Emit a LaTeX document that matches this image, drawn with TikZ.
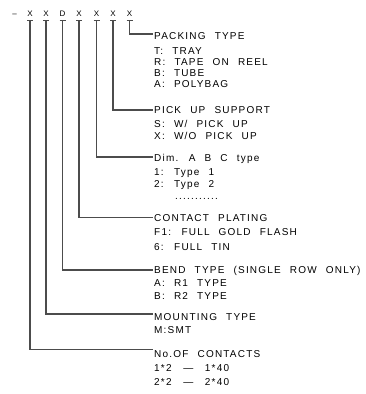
\documentclass[tikz,border=0pt]{standalone}
\usepackage{fontspec}
\setmainfont{Liberation Sans}[LetterSpace=12, WordSpace=2.3]
\newfontfamily\hdrfont{Liberation Sans}[LetterSpace=0]
\begin{document}
\begin{tikzpicture}[x=1pt,y=-1pt,
  conn/.style={draw=black!70, line width=1.1pt},
  tick/.style={draw=black!70, line width=0.9pt},
  hdr/.style={anchor=base, inner sep=0pt, font=\hdrfont\fontsize{8}{9}\selectfont},
  lbl/.style={anchor=base west, inner sep=0pt, font=\fontsize{10}{11}\selectfont}]
\useasboundingbox (0,0) rectangle (366,394);
% header
\node[hdr] (dash) at (14.5,16.5) {–};
\foreach \i/\x/\t in {1/30/X,2/46/X,3/62.5/D,4/79/X,5/96.5/X,6/113/X,7/129.5/X}{
  \node[hdr] (h\i) at (\x,16.5) {\t};
  \coordinate (b\i) at (\x,20.5);
  \draw[tick] ([xshift=-3pt]b\i) -- ([xshift=3pt]b\i);
}
% corners
\coordinate (k7) at (129.5,34);
\coordinate (k6) at (113,110);
\coordinate (k5) at (96.5,157);
\coordinate (k4) at (79,217.5);
\coordinate (k3) at (62.5,270);
\coordinate (k2) at (46,314);
\coordinate (k1) at (30,349.5);
% labels
\node[lbl] (t7) at (154,39.5) {PACKING TYPE};
\node[lbl] (t7a) at (154,54) {T: TRAY};
\node[lbl] (t7b) at (154,65) {R: TAPE ON REEL};
\node[lbl] (t7c) at (154,76) {B: TUBE};
\node[lbl] (t7d) at (154,87.5) {A: POLYBAG};
\node[lbl] (t6) at (154,113.5) {PICK UP SUPPORT};
\node[lbl] (t6a) at (154,127) {S: W/ PICK UP};
\node[lbl] (t6b) at (154,139.5) {X: W/O PICK UP};
\node[lbl] (t5) at (154,161.5) {Dim. A B C type};
\node[lbl] (t5a) at (154,175.5) {1: Type 1};
\node[lbl] (t5b) at (154,187.5) {2: Type 2};
\node[lbl] (t5c) at (175,199.5) {...........};
\node[lbl] (t4) at (154,221.5) {CONTACT PLATING};
\node[lbl] (t4a) at (154,235.5) {F1: FULL GOLD FLASH};
\node[lbl] (t4b) at (154,250) {6: FULL TIN};
\node[lbl] (t3) at (154,273.5) {BEND TYPE (SINGLE ROW ONLY)};
\node[lbl] (t3a) at (154,286) {A: R1 TYPE};
\node[lbl] (t3b) at (154,299) {B: R2 TYPE};
\node[lbl] (t2) at (154,320) {MOUNTING TYPE};
\node[lbl] (t2a) at (154,333) {M:SMT};
\node[lbl] (t1) at (154,357.5) {No.OF CONTACTS};
\node[lbl] (t1a) at (154,371.5) {1*2\hspace{2.5pt} — \hspace{2.5pt}1*40};
\node[lbl] (t1b) at (154,385.5) {2*2\hspace{2.5pt} — \hspace{2.5pt}2*40};
% connectors
\foreach \i in {1,...,7}{
  \draw[conn] (b\i) -- (k\i) -- ([xshift=-1.5pt]k\i -| t\i.west);
}
\end{tikzpicture}
\end{document}
